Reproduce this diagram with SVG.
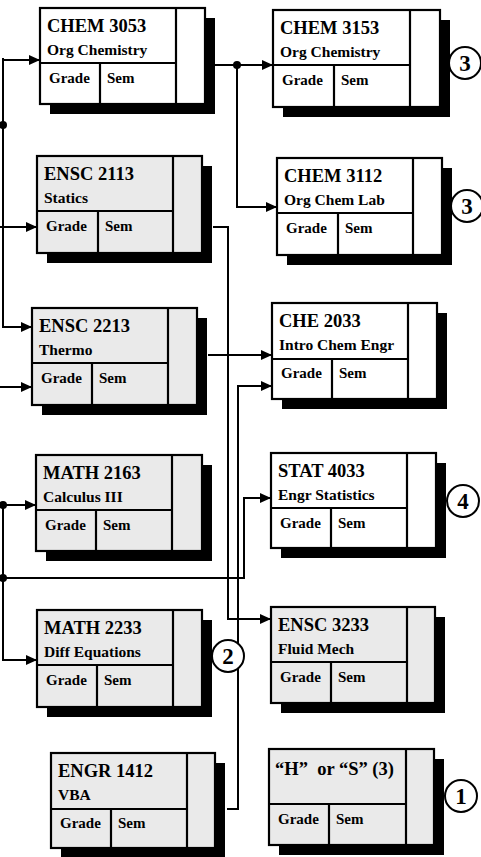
<svg xmlns="http://www.w3.org/2000/svg" width="481" height="857" viewBox="0 0 481 857">
<defs>
<style>
.sh{fill:#000}
.bx{fill:#fff;stroke:#000;stroke-width:2.2}
.g .bx{fill:#eaeaea}
.ln{stroke:#000;stroke-width:2.2;fill:none}
.t1{font-family:"Liberation Serif",serif;font-weight:bold;font-size:18.5px;fill:#000}
.t2{font-family:"Liberation Serif",serif;font-weight:bold;font-size:15.5px;fill:#000}
.t3{font-family:"Liberation Serif",serif;font-weight:bold;font-size:15px;fill:#000}
.cn{stroke:#000;stroke-width:2;fill:none}
.dot{fill:#000}
.cc{fill:#fff;stroke:#000;stroke-width:2}
.ct{font-family:"Liberation Serif",serif;font-weight:bold;font-size:23px;fill:#000;text-anchor:middle}
</style>
<marker id="ah" viewBox="0 0 11 10" refX="11" refY="5" markerWidth="11" markerHeight="10" markerUnits="userSpaceOnUse" orient="auto">
<path d="M0,0 L11,5 L0,10 z" fill="#000"/>
</marker>
</defs>
<rect width="481" height="857" fill="#fff"/>

<g id="connectors">
<path class="cn" d="M3,58 L3,327 L32,327" marker-end="url(#ah)"/>
<path class="cn" d="M3,60 L40,60" marker-end="url(#ah)"/>
<path class="cn" d="M0,125 L3,125"/>
<circle class="dot" cx="3" cy="125" r="4"/>
<path class="cn" d="M0,227 L37,227" marker-end="url(#ah)"/>
<path class="cn" d="M0,387 L32,387" marker-end="url(#ah)"/>
<path class="cn" d="M215,65 L273,65" marker-end="url(#ah)"/>
<path class="cn" d="M237,65 L237,207 L277,207" marker-end="url(#ah)"/>
<circle class="dot" cx="237" cy="65" r="4"/>
<path class="cn" d="M213,227 L228,227 L228,619 L271,619" marker-end="url(#ah)"/>
<path class="cn" d="M208,355 L272,355" marker-end="url(#ah)"/>
<path class="cn" d="M227,809 L238,809 L238,386 L272,386" marker-end="url(#ah)"/>
<path class="cn" d="M0,505 L36,505" marker-end="url(#ah)"/>
<path class="cn" d="M3,505 L3,660 L37,660" marker-end="url(#ah)"/>
<circle class="dot" cx="3" cy="505" r="4"/>
<path class="cn" d="M3,578 L244,578 L244,498 L271,498" marker-end="url(#ah)"/>
<circle class="dot" cx="3" cy="578" r="4"/>
</g>

<g id="chem3053" transform="translate(40,8)">
<rect class="sh" x="10" y="10" width="165" height="96"/>
<rect class="bx" width="165" height="96"/>
<path class="ln" d="M136,0 V96 M0,55 H136 M60,55 V96"/>
<text class="t1" x="7" y="24">CHEM 3053</text>
<text class="t2" x="7" y="47">Org Chemistry</text>
<text class="t3" x="9" y="75">Grade</text>
<text class="t3" x="67" y="75">Sem</text>
</g>

<g id="chem3153" transform="translate(273,10)">
<rect class="sh" x="10" y="10" width="167" height="97"/>
<rect class="bx" width="167" height="97"/>
<path class="ln" d="M137,0 V97 M0,55 H137 M61,55 V97"/>
<text class="t1" x="7" y="24">CHEM 3153</text>
<text class="t2" x="7" y="47">Org Chemistry</text>
<text class="t3" x="9" y="75">Grade</text>
<text class="t3" x="68" y="75">Sem</text>
</g>

<g id="ensc2113" class="g" transform="translate(37,156)">
<rect class="sh" x="10" y="10" width="165" height="97"/>
<rect class="bx" width="165" height="97"/>
<path class="ln" d="M136,0 V97 M0,55 H136 M61,55 V97"/>
<text class="t1" x="7" y="24">ENSC 2113</text>
<text class="t2" x="7" y="47">Statics</text>
<text class="t3" x="9" y="75">Grade</text>
<text class="t3" x="68" y="75">Sem</text>
</g>

<g id="chem3112" transform="translate(277,158)">
<rect class="sh" x="10" y="10" width="165" height="97"/>
<rect class="bx" width="165" height="97"/>
<path class="ln" d="M136,0 V97 M0,55 H136 M61,55 V97"/>
<text class="t1" x="7" y="24">CHEM 3112</text>
<text class="t2" x="7" y="47">Org Chem Lab</text>
<text class="t3" x="9" y="75">Grade</text>
<text class="t3" x="68" y="75">Sem</text>
</g>

<g id="ensc2213" class="g" transform="translate(32,308)">
<rect class="sh" x="10" y="10" width="165" height="97"/>
<rect class="bx" width="165" height="97"/>
<path class="ln" d="M136,0 V97 M0,55 H136 M60,55 V97"/>
<text class="t1" x="7" y="24">ENSC 2213</text>
<text class="t2" x="7" y="47">Thermo</text>
<text class="t3" x="9" y="75">Grade</text>
<text class="t3" x="67" y="75">Sem</text>
</g>

<g id="che2033" transform="translate(272,303)">
<rect class="sh" x="10" y="10" width="165" height="96"/>
<rect class="bx" width="165" height="96"/>
<path class="ln" d="M136,0 V96 M0,56 H136 M60,56 V96"/>
<text class="t1" x="7" y="24">CHE 2033</text>
<text class="t2" x="7" y="47">Intro Chem Engr</text>
<text class="t3" x="9" y="75">Grade</text>
<text class="t3" x="67" y="75">Sem</text>
</g>

<g id="math2163" class="g" transform="translate(36,455)">
<rect class="sh" x="10" y="10" width="166" height="96"/>
<rect class="bx" width="166" height="96"/>
<path class="ln" d="M136,0 V96 M0,55 H136 M60,55 V96"/>
<text class="t1" x="7" y="24">MATH 2163</text>
<text class="t2" x="7" y="47">Calculus III</text>
<text class="t3" x="9" y="75">Grade</text>
<text class="t3" x="67" y="75">Sem</text>
</g>

<g id="stat4033" transform="translate(271,453)">
<rect class="sh" x="10" y="10" width="165" height="95"/>
<rect class="bx" width="165" height="95"/>
<path class="ln" d="M136,0 V95 M0,55 H136 M60,55 V95"/>
<text class="t1" x="7" y="24">STAT 4033</text>
<text class="t2" x="7" y="47">Engr Statistics</text>
<text class="t3" x="9" y="75">Grade</text>
<text class="t3" x="67" y="75">Sem</text>
</g>

<g id="math2233" class="g" transform="translate(37,610)">
<rect class="sh" x="10" y="10" width="165" height="97"/>
<rect class="bx" width="165" height="97"/>
<path class="ln" d="M136,0 V97 M0,55 H136 M60,55 V97"/>
<text class="t1" x="7" y="24">MATH 2233</text>
<text class="t2" x="7" y="47">Diff Equations</text>
<text class="t3" x="9" y="75">Grade</text>
<text class="t3" x="67" y="75">Sem</text>
</g>

<g id="ensc3233" class="g" transform="translate(271,607)">
<rect class="sh" x="10" y="10" width="164" height="96"/>
<rect class="bx" width="164" height="96"/>
<path class="ln" d="M136,0 V96 M0,55 H136 M60,55 V96"/>
<text class="t1" x="7" y="24">ENSC 3233</text>
<text class="t2" x="7" y="47">Fluid Mech</text>
<text class="t3" x="9" y="75">Grade</text>
<text class="t3" x="67" y="75">Sem</text>
</g>

<g id="engr1412" class="g" transform="translate(51,753)">
<rect class="sh" x="10" y="10" width="164" height="95"/>
<rect class="bx" width="164" height="95"/>
<path class="ln" d="M136,0 V95 M0,56 H136 M60,56 V95"/>
<text class="t1" x="7" y="24">ENGR 1412</text>
<text class="t2" x="7" y="47">VBA</text>
<text class="t3" x="9" y="75">Grade</text>
<text class="t3" x="67" y="75">Sem</text>
</g>

<g id="hs" class="g" transform="translate(269,749)">
<rect class="sh" x="10" y="10" width="165" height="96"/>
<rect class="bx" width="165" height="96"/>
<path class="ln" d="M137,0 V96 M0,55 H137 M60,55 V96"/>
<text class="t1" x="6" y="26">“H”&#160; or “S” (3)</text>
<text class="t3" x="9" y="75">Grade</text>
<text class="t3" x="67" y="75">Sem</text>
</g>

<g id="badge3a"><circle class="cc" cx="465" cy="63" r="16"/><text class="ct" x="465" y="71">3</text></g>
<g id="badge3b"><circle class="cc" cx="467" cy="206" r="16"/><text class="ct" x="467" y="214">3</text></g>
<g id="badge4"><circle class="cc" cx="463" cy="501" r="16"/><text class="ct" x="463" y="509">4</text></g>
<g id="badge2"><circle class="cc" cx="228" cy="656" r="16"/><text class="ct" x="228" y="664">2</text></g>
<g id="badge1"><circle class="cc" cx="461" cy="796" r="16"/><text class="ct" x="461" y="804">1</text></g>
</svg>
